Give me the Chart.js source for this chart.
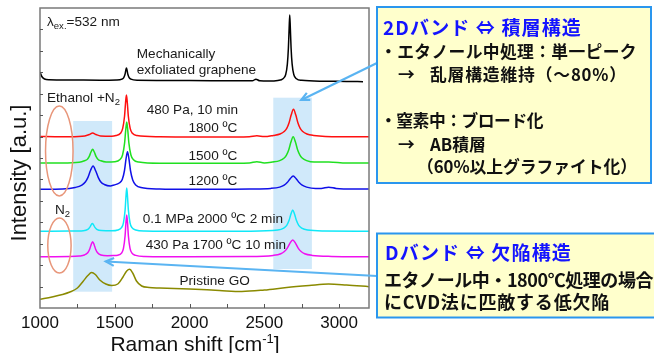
<!DOCTYPE html>
<html>
<head>
<meta charset="utf-8">
<script src="https://cdn.jsdelivr.net/npm/chart.js@4.4.1/dist/chart.umd.min.js"></script>
<style>
    html, body { margin: 0; padding: 0; background: #fff; }
    canvas { display: block; }
</style>
</head>
<body>
<canvas id="raman" width="654" height="353"></canvas>
<script>
// Raman spectra, stacked with offsets (intensity in a.u., 0-300 on the plot)
const exfoliatedShift = [1000, 1012, 1030, 1060, 1200, 1400, 1510, 1548, 1560, 1569, 1573.5, 1578, 1582.5, 1587, 1596, 1608, 1650, 2000, 2300, 2420, 2444, 2470, 2530, 2590, 2625, 2643, 2654, 2661, 2666, 2670, 2674, 2679, 2686, 2697, 2715, 2750, 2900, 3050, 3160];
const exfoliatedInt = [236, 231.5, 229, 228.2, 228, 227.8, 228, 228.9, 230.4, 234, 237.6, 240, 237.6, 234, 230.4, 228.9, 227.8, 227.5, 227.2, 227.2, 228.8, 227.2, 227, 227.6, 229.3, 233.5, 243.9, 260, 279.7, 293, 279.7, 260, 243.9, 233.5, 229.3, 227.7, 226.8, 226.6, 226.3];

const t1800Shift = [1000, 1100, 1200, 1300, 1330, 1352, 1374, 1405, 1480, 1508, 1538, 1553, 1565.5, 1572, 1578, 1584, 1590.5, 1603, 1618, 1648, 1800, 2000, 2200, 2400, 2450, 2500, 2560, 2605, 2635, 2650, 2665, 2680, 2695, 2710, 2725, 2740, 2755, 2785, 2830, 3000, 3200];
const t1800Int = [171.5, 171.3, 171.2, 172, 173.5, 175, 173.5, 172, 171.8, 172.5, 174.7, 179.6, 192, 205, 213, 205, 192, 179.6, 174.7, 172.5, 171.3, 171, 171, 171.3, 172.3, 171.4, 172.6, 174, 176.8, 179.7, 185, 193.2, 198.7, 193.2, 185, 179.7, 176.8, 174, 172.6, 171.2, 171.3];

const t1500Shift = [1000, 1150, 1262, 1297, 1317, 1329.5, 1341, 1352, 1363, 1374.5, 1387, 1407, 1442, 1500, 1535, 1552, 1566, 1573, 1580, 1587, 1594, 1608, 1625, 1660, 1800, 2000, 2200, 2400, 2450, 2500, 2553, 2603, 2633, 2648, 2663, 2678, 2693, 2708, 2723, 2738, 2753, 2783, 2833, 2930, 3050, 3200];
const t1500Int = [145, 145, 145.7, 147.2, 148.8, 151.7, 156, 158.7, 156, 151.7, 148.8, 147.2, 146, 146.3, 148.5, 153, 165.4, 177.7, 186, 177.7, 165.4, 153, 148.3, 145.9, 144.7, 144.7, 144.7, 145, 146.3, 145, 145.9, 147.4, 150, 152.9, 158, 166, 171.3, 166, 158, 152.9, 150, 147.4, 145.9, 146, 145, 145];

const t1200Shift = [1000, 1150, 1235, 1280, 1303, 1320, 1337, 1355, 1372, 1390, 1407, 1430, 1470, 1495, 1530, 1550, 1565, 1575, 1585, 1595, 1605, 1620, 1640, 1675, 1800, 2000, 2200, 2400, 2543, 2603, 2633, 2653, 2673, 2693, 2713, 2733, 2753, 2783, 2843, 2880, 2930, 2980, 3100, 3200];
const t1200Int = [118.7, 119, 120.5, 122.9, 126, 130.4, 137.3, 142, 137.3, 130.4, 126, 123.5, 122, 123, 125, 128.5, 137.5, 148.8, 156.3, 148.8, 137.5, 128, 123.1, 120.4, 119, 118.7, 118.7, 119, 119.6, 120.9, 122.8, 125.4, 129.3, 132, 129.3, 125.4, 122.8, 120.9, 119.6, 119.6, 120.8, 119.6, 119, 119];

const mpa2000Shift = [1000, 1200, 1290, 1320, 1332.5, 1341, 1350, 1359, 1367.5, 1380, 1410, 1480, 1520, 1545, 1558, 1569, 1574.5, 1580, 1585.5, 1591, 1602, 1615, 1640, 1700, 2000, 2400, 2590, 2630, 2650, 2665, 2677.5, 2690, 2702.5, 2715, 2730, 2750, 2790, 2900, 3200];
const mpa2000Int = [76.7, 76.9, 77.3, 78.7, 80.6, 82.9, 84.5, 82.9, 80.6, 78.7, 77.4, 77.2, 78, 80.3, 85.2, 97.9, 110.7, 120, 110.7, 97.9, 85.2, 80.3, 78, 77, 76.7, 76.8, 77.9, 79.9, 82.7, 87.4, 93.7, 98, 93.7, 87.4, 82.7, 79.9, 77.9, 77, 76.8];

const pa1700Shift = [1000, 1200, 1262, 1297, 1319, 1332, 1342, 1352, 1362, 1372, 1385, 1407, 1450, 1490, 1520, 1545, 1558, 1569, 1574.5, 1580, 1585.5, 1591, 1602, 1615, 1640, 1700, 2000, 2400, 2560, 2610, 2634, 2652.5, 2671, 2690, 2709, 2727.5, 2746, 2770, 2820, 2950, 3200];
const pa1700Int = [51.3, 51.5, 52, 53, 55.3, 58.8, 63.3, 66.3, 63.3, 58.8, 55.3, 53, 52.3, 52.4, 52.8, 54.9, 59.6, 72.2, 84.7, 93, 84.7, 72.2, 59.6, 54.9, 52.6, 51.6, 51.3, 51.4, 52.6, 54.3, 56.5, 59.7, 64.7, 68, 64.7, 59.7, 56.5, 54.3, 52.6, 51.6, 51.3];

const grapheneOxideShift = [1000, 1080, 1150, 1200, 1250, 1290, 1320, 1345, 1370, 1400, 1440, 1480, 1520, 1555, 1580, 1600, 1620, 1645, 1680, 1730, 1800, 2000, 2200, 2350, 2500, 2650, 2800, 2930, 3050, 3200];
const grapheneOxideInt = [8.7, 11, 13.5, 16, 20, 27, 32.5, 35.5, 33.5, 28, 24, 22.5, 24, 31, 37, 38.7, 35, 27, 22, 20.5, 20, 19, 17.5, 16.5, 18, 20.5, 22.5, 24, 23, 21.3];

const xTicks = [1000, 1250, 1500, 1750, 2000, 2250, 2500, 2750, 3000];
const xLabelled = [1000, 1500, 2000, 2500, 3000];
const yTicks = [21.4, 42.9, 64.3, 85.7, 107.1, 128.6, 150, 171.4, 192.9, 214.3, 235.7, 257.1, 278.6];

// annotation layout (data coordinates unless noted)
const bands = [
    { from: 1222, to: 1482, top: 187, bottom: 16.3 },
    { from: 2560, to: 2818, top: 210.3, bottom: 39 }
];
const ovals = [
    { x: 1129, rx: 92, y: 157, ry: 45 },
    { x: 1130, rx: 78, y: 62.5, ry: 27.5 }
];
const plotLabels = [
    { x: 1047, y: 286, parts: [['λ', 0], ['ex.', 1], ['=532 nm', 0]] },
    { x: 1647, y: 254, parts: [['Mechanically', 0]] },
    { x: 1647, y: 238, parts: [['exfoliated graphene', 0]] },
    { x: 1047, y: 210, parts: [['Ethanol +N', 0], ['2', 1]] },
    { x: 1713, y: 198, parts: [['480 Pa, 10 min', 0]] },
    { x: 1993, y: 180, parts: [['1800 ºC', 0]] },
    { x: 1993, y: 151.3, parts: [['1500 ºC', 0]] },
    { x: 1993, y: 127, parts: [['1200 ºC', 0]] },
    { x: 1100, y: 98, parts: [['N', 0], ['2', 1]] },
    { x: 1687, y: 89, parts: [['0.1 MPa 2000 ºC 2 min', 0]] },
    { x: 1707, y: 63, parts: [['430 Pa 1700 ºC 10 min', 0]] },
    { x: 1933, y: 27, parts: [['Pristine GO', 0]] }
];
// arrow tips in data coords, tails in pixels (on the note boxes)
const arrows = [
    { fromPx: [377, 63], to: [2747, 208] },
    { fromPx: [377, 276], to: [1440, 46.5] }
];
// note boxes (pixels)
const noteBoxes = [
    { x: 377, y: 7, w: 274, h: 176, size: 16.8, lines: [
        { t: '2Dバンド ⇔ 積層構造', x: 383, y: 28, r: 582, title: true },
        { t: '・エタノール中処理：単一ピーク', x: 380, y: 52, r: 637 },
        { t: '→', x: 398, y: 75 },
        { t: '乱層構造維持（～80%）', x: 430, y: 75, r: 627 },
        { t: '・窒素中：ブロード化', x: 380, y: 121, r: 543 },
        { t: '→', x: 398, y: 145 },
        { t: 'AB積層', x: 430, y: 145 },
        { t: '（60%以上グラファイト化）', x: 417, y: 167, r: 637 }
    ] },
    { x: 377, y: 233.5, w: 290, h: 84, size: 18, lines: [
        { t: 'Dバンド ⇔ 欠陥構造', x: 385, y: 253, r: 572, title: true },
        { t: 'エタノール中・1800℃処理の場合', x: 384, y: 280, r: 653 },
        { t: 'にCVD法に匹敵する低欠陥', x: 384, y: 302, r: 610 }
    ] }
];

const LATIN = '"Liberation Sans", Arial, sans-serif';
const CJK = '"Noto Sans CJK JP", sans-serif';

function pts(xs, ys) {
    return xs.map(function (x, i) { return { x: x, y: ys[i] }; });
}

function series(xs, ys, color) {
    return {
        data: pts(xs, ys),
        borderColor: color,
        borderWidth: 1.5,
        pointRadius: 0,
        fill: false,
        cubicInterpolationMode: 'monotone'
    };
}

function richText(ctx, parts, x, y, size) {
    let cx = x;
    parts.forEach(function (p) {
        const small = p[1] !== 0;
        ctx.font = (small ? size * 0.7 : size) + 'px ' + LATIN;
        const dy = p[1] === 1 ? size * 0.3 : (p[1] === 2 ? -size * 0.38 : 0);
        ctx.fillText(p[0], cx, y + dy);
        cx += ctx.measureText(p[0]).width;
    });
}

function drawArrow(ctx, x1, y1, x2, y2) {
    const a = Math.atan2(y2 - y1, x2 - x1), L = 9, w = 0.45;
    ctx.beginPath();
    ctx.moveTo(x1, y1);
    ctx.lineTo(x2, y2);
    ctx.stroke();
    ctx.beginPath();
    ctx.moveTo(x2 - L * Math.cos(a - w), y2 - L * Math.sin(a - w));
    ctx.lineTo(x2, y2);
    ctx.lineTo(x2 - L * Math.cos(a + w), y2 - L * Math.sin(a + w));
    ctx.stroke();
}

const decor = {
    id: 'decor',
    beforeDatasetsDraw: function (chart) {
        const ctx = chart.ctx, x = chart.scales.x, y = chart.scales.y;
        ctx.save();
        ctx.fillStyle = 'rgba(170, 215, 245, 0.55)';
        bands.forEach(function (b) {
            const l = x.getPixelForValue(b.from), r = x.getPixelForValue(b.to);
            const t = y.getPixelForValue(b.top), bt = y.getPixelForValue(b.bottom);
            ctx.fillRect(l, t, r - l, bt - t);
        });
        ctx.restore();
    },
    afterDatasetsDraw: function (chart) {
        const ctx = chart.ctx, x = chart.scales.x, y = chart.scales.y, area = chart.chartArea;
        ctx.save();
        // frame
        ctx.strokeStyle = '#7a7a7a';
        ctx.lineWidth = 1.5;
        ctx.strokeRect(area.left, area.top, area.right - area.left, area.bottom - area.top);
        // inward ticks
        ctx.strokeStyle = '#555';
        ctx.lineWidth = 1;
        ctx.beginPath();
        x.ticks.forEach(function (t) {
            if (t.value <= x.min || t.value >= x.max) return;
            const px = Math.round(x.getPixelForValue(t.value)) + 0.5;
            ctx.moveTo(px, area.bottom);
            ctx.lineTo(px, area.bottom - 4);
        });
        y.ticks.forEach(function (t) {
            if (t.value <= y.min || t.value >= y.max) return;
            const py = Math.round(y.getPixelForValue(t.value)) + 0.5;
            ctx.moveTo(area.left, py);
            ctx.lineTo(area.left + 3, py);
        });
        ctx.stroke();
        // ovals
        ctx.strokeStyle = '#e8967a';
        ctx.lineWidth = 1.5;
        ovals.forEach(function (o) {
            const cx = x.getPixelForValue(o.x), cy = y.getPixelForValue(o.y);
            const rx = x.getPixelForValue(o.x + o.rx) - cx, ry = cy - y.getPixelForValue(o.y + o.ry);
            ctx.beginPath();
            ctx.ellipse(cx, cy, rx, ry, 0, 0, Math.PI * 2);
            ctx.stroke();
        });
        // labels
        ctx.fillStyle = '#1a1a1a';
        ctx.textBaseline = 'middle';
        ctx.textAlign = 'left';
        plotLabels.forEach(function (lb) {
            richText(ctx, lb.parts, x.getPixelForValue(lb.x), y.getPixelForValue(lb.y), 13.6);
        });
        ctx.restore();
    },
    afterDraw: function (chart) {
        const ctx = chart.ctx, x = chart.scales.x, y = chart.scales.y, area = chart.chartArea;
        ctx.save();
        // axis titles
        ctx.fillStyle = '#111';
        ctx.textBaseline = 'middle';
        ctx.textAlign = 'center';
        ctx.save();
        ctx.translate(20, (area.top + area.bottom) / 2 + 15);
        ctx.rotate(-Math.PI / 2);
        ctx.font = '22px ' + LATIN;
        ctx.fillText('Intensity [a.u.]', 0, 0);
        ctx.restore();
        ctx.textAlign = 'left';
        ctx.textBaseline = 'alphabetic';
        ctx.font = '21px ' + LATIN;
        const main = 'Raman shift [cm', sup = '-1', end = ']';
        const wMain = ctx.measureText(main).width, wEnd = ctx.measureText(end).width;
        ctx.font = '13px ' + LATIN;
        const wSup = ctx.measureText(sup).width;
        let tx = 195 - (wMain + wSup + wEnd) / 2;
        const ty = 350.5;
        ctx.font = '21px ' + LATIN;
        ctx.fillText(main, tx, ty);
        tx += wMain;
        ctx.font = '13px ' + LATIN;
        ctx.fillText(sup, tx, ty - 8);
        tx += wSup;
        ctx.font = '21px ' + LATIN;
        ctx.fillText(end, tx, ty);
        // arrows
        ctx.strokeStyle = '#5ab4f2';
        ctx.lineWidth = 2.2;
        arrows.forEach(function (a) {
            drawArrow(ctx, a.fromPx[0], a.fromPx[1], x.getPixelForValue(a.to[0]), y.getPixelForValue(a.to[1]));
        });
        // note boxes
        noteBoxes.forEach(function (b) {
            ctx.fillStyle = '#ffffcc';
            ctx.fillRect(b.x, b.y, b.w, b.h);
            ctx.strokeStyle = '#2a96ee';
            ctx.lineWidth = 2;
            ctx.strokeRect(b.x, b.y, b.w, b.h);
            b.lines.forEach(function (ln) {
                ctx.font = 'bold ' + (ln.title ? 19 : b.size) + 'px ' + CJK;
                ctx.fillStyle = ln.title ? '#1414ff' : '#111';
                ctx.textBaseline = 'middle';
                ctx.letterSpacing = '0px';
                if (ln.r) {
                    const n = Array.from(ln.t).length;
                    const w = ctx.measureText(ln.t).width;
                    ctx.letterSpacing = ((ln.r - ln.x - w) / n).toFixed(2) + 'px';
                }
                ctx.fillText(ln.t, ln.x, ln.y);
            });
        });
        ctx.letterSpacing = '0px';
        ctx.restore();
    }
};

new Chart(document.getElementById('raman'), {
    type: 'line',
    data: {
        datasets: [
            series(exfoliatedShift, exfoliatedInt, '#000000'),
            series(t1800Shift, t1800Int, '#ff1010'),
            series(t1500Shift, t1500Int, '#20e020'),
            series(t1200Shift, t1200Int, '#1010e8'),
            series(mpa2000Shift, mpa2000Int, '#10e8f8'),
            series(pa1700Shift, pa1700Int, '#f010f0'),
            series(grapheneOxideShift, grapheneOxideInt, '#8a8a00')
        ]
    },
    options: {
        responsive: false,
        animation: false,
        layout: { padding: { left: 0, right: 285, top: 8, bottom: 0 } },
        plugins: {
            legend: { display: false },
            tooltip: { enabled: false }
        },
        scales: {
            x: {
                type: 'linear',
                min: 1000,
                max: 3200,
                grid: { display: false, drawTicks: false },
                border: { display: false },
                afterBuildTicks: function (s) {
                    s.ticks = xTicks.map(function (v) { return { value: v }; });
                },
                ticks: {
                    autoSkip: false,
                    maxRotation: 0,
                    padding: 5,
                    color: '#111',
                    font: { family: LATIN, size: 17 },
                    callback: function (v) { return xLabelled.indexOf(v) >= 0 ? String(v) : ''; }
                },
                afterFit: function (s) { s.height = 45; }
            },
            y: {
                min: 0,
                max: 300,
                grid: { display: false, drawTicks: false },
                border: { display: false },
                afterBuildTicks: function (s) {
                    s.ticks = yTicks.map(function (v) { return { value: v }; });
                },
                ticks: { display: false },
                afterFit: function (s) { s.width = 40; }
            }
        }
    },
    plugins: [decor]
});
</script>
</body>
</html>
